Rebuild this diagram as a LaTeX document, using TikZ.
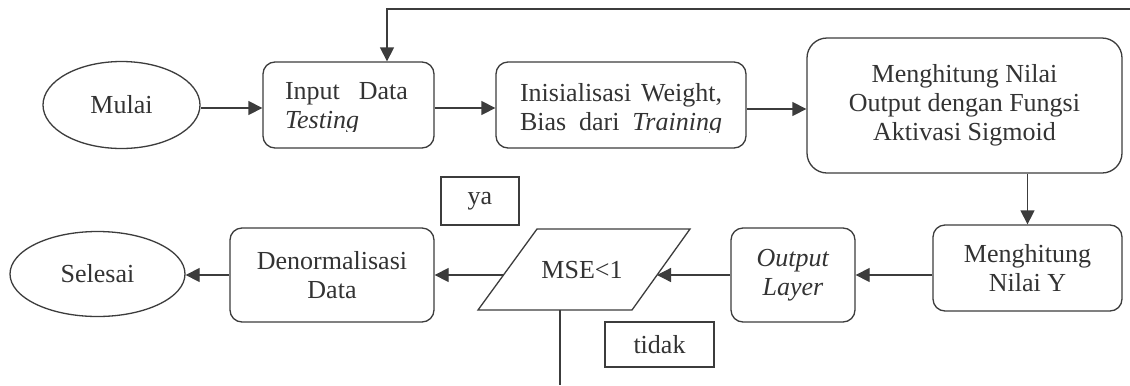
\documentclass[tikz,border=0pt]{standalone}
\usepackage{fontspec}
\setmainfont{Liberation Serif}
\usetikzlibrary{shapes.geometric,arrows.meta,calc}
\definecolor{lc}{HTML}{3C3C3C}
\definecolor{tx}{HTML}{333333}
\begin{document}
\begin{tikzpicture}[x=1bp,y=-1bp,
  font=\fontsize{26bp}{29bp}\selectfont,
  every node/.style={text=tx},
  wire/.style={draw=lc, line width=1.3bp},
  arr/.style={wire, -{Triangle[length=14bp,width=14bp]}},
  box/.style={draw=lc, line width=1.3bp, rounded corners=12bp, inner sep=0pt},
  term/.style={ellipse, draw=lc, line width=1.3bp, inner sep=0pt},
  lbl/.style={draw=lc, line width=1.3bp, inner sep=0pt}]
\useasboundingbox (0,0) rectangle (1130,385);
\fill[white] (0,0) rectangle (1130,385);

% nodes
\node[term, minimum width=157bp, minimum height=87bp] (mulai) at (121.5,105) {Mulai};
\node[box, minimum width=171bp, minimum height=86bp] (input) at (348.5,105) {};
\begin{scope}
  \clip (input.north west) rectangle ($(input.east)+(0,26)$);
  \node[align=left, inner sep=0pt] (inputtxt) at (346.5,108.5)
    {\hbox to 123bp{Input\hfill Data}\\\textit{Testing}};
\end{scope}
\node[box, minimum width=250bp, minimum height=86bp] (init) at (621,105) {};
\begin{scope}
  \clip (init.north west) rectangle ($(init.east)+(0,27)$);
  \node[align=left, inner sep=0pt] (inittxt) at (621,109.5)
    {\hbox to 202bp{Inisialisasi\hfill Weight,}\\\hbox to 202bp{Bias\hfill dari\hfill\textit{Training}}};
\end{scope}
\node[box, rounded corners=20bp, minimum width=315bp, minimum height=135bp, align=center] (hitung) at (964.5,105.5)
  {Menghitung Nilai\\Output dengan Fungsi\\Aktivasi Sigmoid};
\node[box, minimum width=189bp, minimum height=86bp, align=center] (nilaiy) at (1027.5,268) {Menghitung\\Nilai Y};
\node[box, minimum width=124bp, minimum height=94bp, align=center] (outlayer) at (793,275) {\textit{Output}\\\textit{Layer}};
\draw[wire] (537,229) -- (690,229) -- (632,310) -- (478,310) -- cycle;
\node[inner sep=0pt] (mse) at (582,270) {MSE<1};
\node[box, minimum width=204bp, minimum height=94bp, align=center] (denorm) at (332,275) {Denormalisasi\\Data};
\node[term, minimum width=175bp, minimum height=85bp] (selesai) at (97.5,274) {Selesai};
\node[lbl, minimum width=78bp, minimum height=48bp] (ya) at (480,201) {ya};
\node[lbl, minimum width=109bp, minimum height=45bp] (tidak) at (659.5,344.5) {tidak};

% coordinates
\coordinate (mseR) at (657,275);
\coordinate (mseL) at (503,275);
\coordinate (mseB) at (560,310);
\coordinate (tidakEnd) at (560,385);
\coordinate (loopR) at (1130,9);
\coordinate (loopL) at (387,9);

% connectors
\draw[arr] ([yshift=-3bp]mulai.east) -- ([yshift=-3bp]input.west);
\draw[arr] ([yshift=-3bp]input.east) -- ([yshift=-3bp]init.west);
\draw[arr] ([yshift=-4bp]init.east) -- ([yshift=-4bp]init.east -| hitung.west);
\draw[arr] (hitung.south -| nilaiy.north) -- (nilaiy.north);
\draw[arr] (nilaiy.west |- outlayer.east) -- (outlayer.east);
\draw[arr] (outlayer.west) -- (mseR);
\draw[arr] (mseL) -- (denorm.east);
\draw[arr] (denorm.west) -- (denorm.west -| selesai.east);
\draw[wire] (mseB) -- (tidakEnd);
\draw[arr] (loopR) -- (loopL) -- (loopL |- input.north);
\end{tikzpicture}
\end{document}
